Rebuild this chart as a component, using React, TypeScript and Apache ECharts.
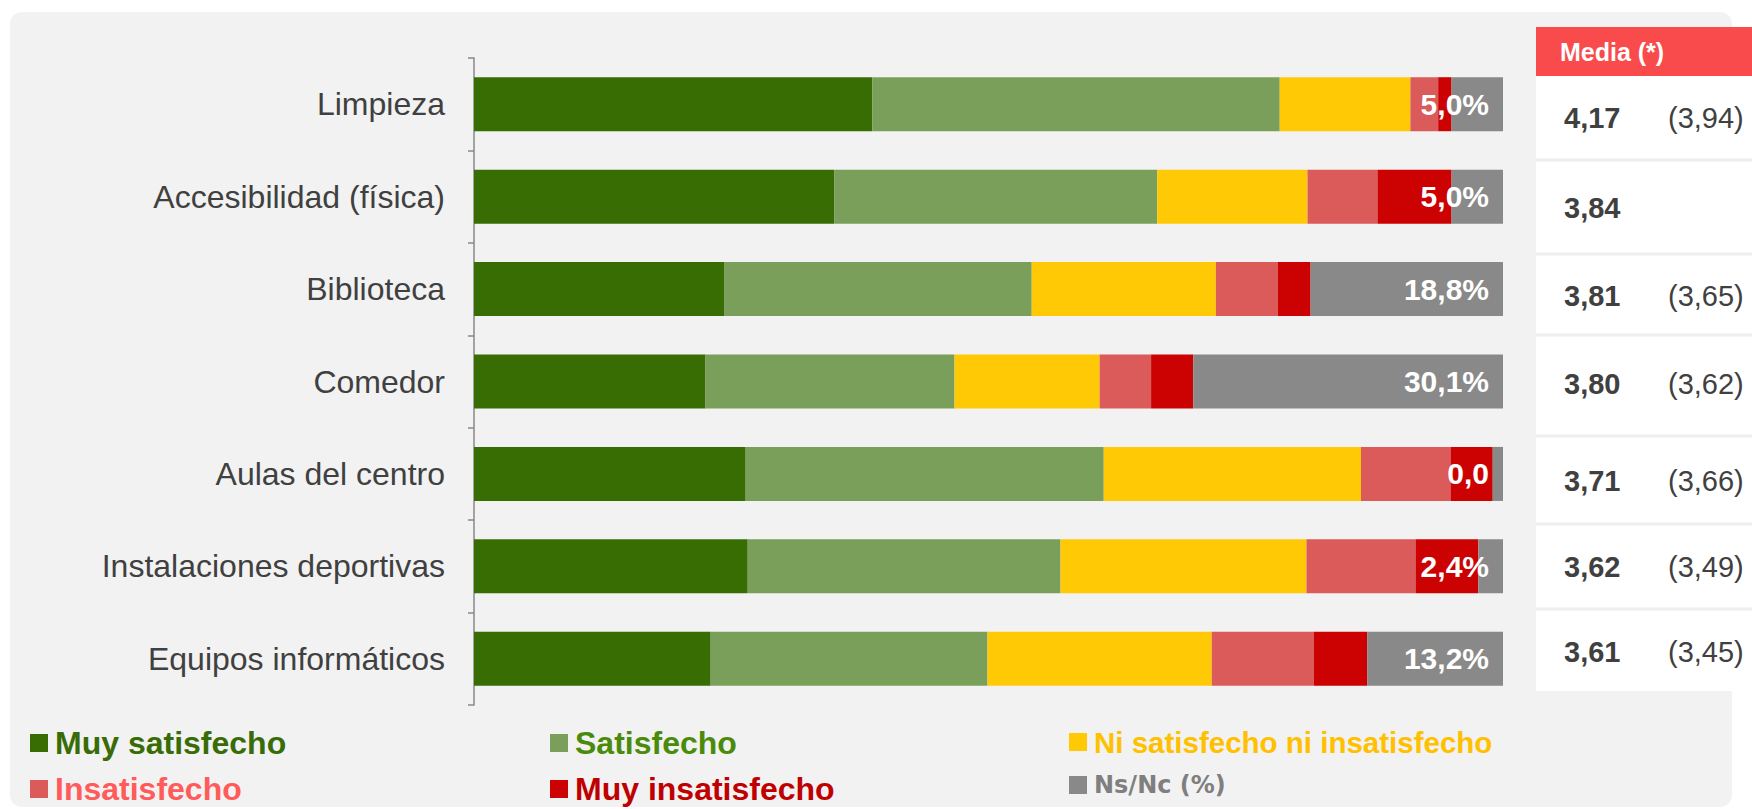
import React, { useEffect, useRef } from "react";
import * as echarts from "echarts";

const categories = [
  "Limpieza",
  "Accesibilidad (física)",
  "Biblioteca",
  "Comedor",
  "Aulas del centro",
  "Instalaciones deportivas",
  "Equipos informáticos",
];
const seriesNames = [
  "Muy satisfecho",
  "Satisfecho",
  "Ni satisfecho ni insatisfecho",
  "Insatisfecho",
  "Muy insatisfecho",
  "Ns/Nc (%)",
];
const muySatisfecho = [38.7, 35.0, 24.3, 22.5, 26.4, 26.6, 23.0];
const satisfecho = [39.6, 31.4, 29.9, 24.2, 34.8, 30.4, 26.9];
const niNi = [12.7, 14.6, 17.9, 14.1, 25.0, 23.9, 21.8];
const insatisfecho = [2.7, 6.8, 6.0, 5.0, 8.7, 10.6, 9.9];
const muyInsatisfecho = [1.3, 7.2, 3.2, 4.1, 4.1, 6.1, 5.2];
const nsNc = [5.0, 5.0, 18.8, 30.1, 1.0, 2.4, 13.2];
const nsNcLabels = ["5,0%", "5,0%", "18,8%", "30,1%", "0,0", "2,4%", "13,2%"];
const mediaTitle = "Media (*)";
const media = [4.17, 3.84, 3.81, 3.8, 3.71, 3.62, 3.61];
const mediaPrev = [3.94, null, 3.65, 3.62, 3.66, 3.49, 3.45];

const barColors = ["#386d04", "#7a9f5a", "#ffc905", "#db5a5a", "#cc0202", "#898989"];
const legendTextColors = ["#386c06", "#4b8b0b", "#ffc000", "#ff5b5b", "#c00000", "#7f7f7f"];

const FONT = "'Liberation Sans', Arial, sans-serif";
const fmt = (v: number) => v.toFixed(2).replace(".", ",");

export default function App() {
  const ref = useRef<HTMLDivElement>(null);
  useEffect(() => {
    const chart = echarts.init(ref.current!, null, { renderer: "svg" });
    const dataSets = [muySatisfecho, satisfecho, niNi, insatisfecho, muyInsatisfecho, nsNc];

    const series = dataSets.map((d, i) => ({
      name: seriesNames[i],
      type: "bar",
      stack: "total",
      barWidth: 54,
      itemStyle: { color: barColors[i] },
      data: d,
      label:
        i === 5
          ? {
              show: true,
              position: "insideRight",
              distance: 14,
              formatter: (p: any) => nsNcLabels[p.dataIndex],
              color: "#ffffff",
              fontWeight: "bold",
              fontSize: 30,
              fontFamily: FONT,
            }
          : { show: false },
    }));

    const legendPos = [
      { left: 30, top: 727 },
      { left: 550, top: 727 },
      { left: 1069, top: 727 },
      { left: 30, top: 773 },
      { left: 550, top: 773 },
      { left: 1069, top: 773 },
    ];
    const legends = seriesNames.map((n, i) => ({
      data: [
        {
          name: n,
          textStyle: {
            color: legendTextColors[i],
            fontSize: i === 5 ? 24 : i === 2 ? 29.5 : 32,
            fontWeight: "bold",
            fontFamily: i === 5 ? "'DejaVu Sans', sans-serif" : FONT,
            padding: [0, 0, 0, 2],
          },
        },
      ],
      left: legendPos[i].left,
      top: legendPos[i].top,
      padding: 0,
      icon: "rect",
      itemWidth: 18,
      itemHeight: 18,
      selectedMode: false,
    }));

    const rowY = [118, 208, 296, 384, 481, 567, 652];
    const sepY = [160, 254, 335, 436, 524, 609];
    const graphics: any[] = [
      {
        type: "rect",
        z: -5,
        silent: true,
        shape: { x: 10, y: 12, width: 1722, height: 795, r: 12 },
        style: { fill: "#f2f2f2" },
      },
      {
        type: "rect",
        silent: true,
        shape: { x: 1536, y: 27, width: 216, height: 664 },
        style: { fill: "#ffffff" },
      },
      {
        type: "rect",
        silent: true,
        shape: { x: 1536, y: 27, width: 216, height: 49 },
        style: { fill: "#f94b4b" },
      },
      {
        type: "text",
        silent: true,
        style: {
          text: mediaTitle,
          x: 1560,
          y: 52,
          fill: "#ffffff",
          font: `bold 25px ${FONT}`,
          align: "left",
          verticalAlign: "middle",
          textAlign: "left",
          textVerticalAlign: "middle",
        },
      },
    ];
    sepY.forEach((y) =>
      graphics.push({
        type: "rect",
        silent: true,
        shape: { x: 1536, y: y - 1.5, width: 216, height: 3 },
        style: { fill: "#eeeeee" },
      })
    );
    media.forEach((m, i) => {
      graphics.push({
        type: "text",
        silent: true,
        style: {
          text: fmt(m),
          x: 1564,
          y: rowY[i],
          fill: "#404040",
          font: `bold 29px ${FONT}`,
          align: "left",
          verticalAlign: "middle",
          textAlign: "left",
          textVerticalAlign: "middle",
        },
      });
      const p = mediaPrev[i];
      if (p !== null) {
        graphics.push({
          type: "text",
          silent: true,
          style: {
            text: `(${fmt(p)})`,
            x: 1668,
            y: rowY[i],
            fill: "#404040",
            font: `29px ${FONT}`,
            align: "left",
            verticalAlign: "middle",
            textAlign: "left",
            textVerticalAlign: "middle",
          },
        });
      }
    });

    chart.setOption({
      animation: false,
      backgroundColor: "#ffffff",
      grid: { left: 474, right: 249, top: 58, bottom: 104, containLabel: false },
      xAxis: {
        type: "value",
        min: 0,
        max: 100,
        show: false,
      },
      yAxis: {
        type: "category",
        inverse: true,
        data: categories,
        axisLine: { show: true, lineStyle: { color: "#888888", width: 1.5 } },
        axisTick: { show: true, length: 6, lineStyle: { color: "#888888", width: 1.5 } },
        axisLabel: {
          margin: 29,
          color: "#404040",
          fontSize: 32,
          fontFamily: FONT,
        },
        splitLine: { show: false },
      },
      legend: legends,
      series,
      graphic: graphics,
    });
    return () => chart.dispose();
  }, []);
  return (
    <div
      ref={ref}
      style={{ position: "absolute", left: 0, top: 0, width: 1752, height: 809 }}
    />
  );
}
